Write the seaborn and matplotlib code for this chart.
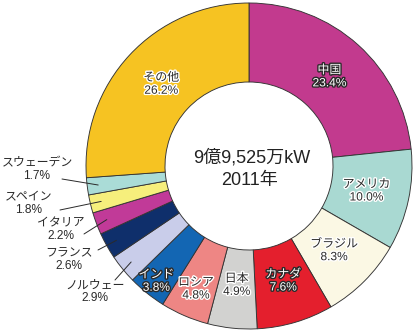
import numpy as np
import matplotlib
matplotlib.use("Agg")
import matplotlib.pyplot as plt
import matplotlib.patheffects as pe
import seaborn as sns

# Power generation capacity share by country, 2011
countries = ["中国", "アメリカ", "ブラジル", "カナダ", "日本", "ロシア", "インド",
             "ノルウェー", "フランス", "イタリア", "スペイン", "スウェーデン", "その他"]
shares = [23.4, 10.0, 8.3, 7.6, 4.9, 4.8, 3.8, 2.9, 2.6, 2.2, 1.8, 1.7, 26.2]
colors = ["#C23A8E", "#A9D9D2", "#FBF8E4", "#E41F2D", "#D2D2D0", "#EE8684", "#1366B3",
          "#C9CDEA", "#0F2F6B", "#C13A98", "#F6EF7C", "#AADCD7", "#F6C322"]
center_lines = ["9億9,525万kW", "2011年"]

sns.set_style("white")
plt.rcParams["font.family"] = ["Liberation Sans", "Noto Sans CJK JP", "DejaVu Sans"]

W, H = 420, 334
fig = plt.figure(figsize=(W / 100, H / 100), dpi=100)
ax = fig.add_axes([0, 0, 1, 1])

cx, cy = 249, H - 166
r_out, r_in = 163, 84

palette = sns.color_palette(colors)
wedges, _ = ax.pie(shares, colors=palette, startangle=90, counterclock=False,
                   center=(cx, cy), radius=r_out, frame=True,
                   wedgeprops=dict(width=r_out - r_in, edgecolor="#333333", linewidth=0.65))
ax.set_xlim(0, W)
ax.set_ylim(0, H)
ax.set_aspect("equal")
ax.axis("off")

# mid-angle of each wedge
total = sum(shares)
cum = np.cumsum([0] + shares[:-1])
mid_deg = 90 - (cum + np.array(shares) / 2) / total * 360

def polar(r, deg):
    t = np.deg2rad(deg)
    return cx + r * np.cos(t), cy + r * np.sin(t)

dark_halo = [pe.withStroke(linewidth=2.0, foreground="#2a2a2a")]
light_halo = [pe.withStroke(linewidth=2.0, foreground="white")]

# labels placed inside the ring
inside = {"中国": (120, True), "アメリカ": (120, False), "ブラジル": (120, False),
          "カナダ": (120, True), "日本": (120, False), "ロシア": (134, False),
          "インド": (148, True), "その他": (120, False)}
for i, name in enumerate(countries):
    if name not in inside:
        continue
    rad, white = inside[name]
    x, y = polar(rad, mid_deg[i])
    ax.text(x, y, f"{name}\n{shares[i]:.1f}%", ha="center", va="center",
            fontsize=8.6, linespacing=1.1,
            color="white" if white else "#2a2a2a",
            path_effects=dark_halo if white else light_halo)

# labels placed outside with leader lines (text position, line start)
outside = {"スウェーデン": ((37, H - 170), (62, H - 179)),
           "スペイン": ((29, H - 204), (60, H - 210)),
           "イタリア": ((61, H - 230), (84, H - 234)),
           "フランス": ((69, H - 260), (98, H - 250)),
           "ノルウェー": ((95, H - 292), (115, H - 280))}
for i, name in enumerate(countries):
    if name not in outside:
        continue
    (tx, ty), (lx, ly) = outside[name]
    ax.text(tx, ty, f"{name}\n{shares[i]:.1f}%", ha="center", va="center",
            fontsize=8.6, linespacing=1.05, color="#2a2a2a")
    ex, ey = polar(152, mid_deg[i])
    ax.plot([lx, ex], [ly, ey], color="#2a2a2a", lw=0.7)

ax.text(cx + 3, H - 158, center_lines[0], ha="center", va="center", fontsize=13, color="#222222")
ax.text(cx, H - 181, center_lines[1], ha="center", va="center", fontsize=13, color="#222222")

fig.savefig("out.png", dpi=100, facecolor="white")
